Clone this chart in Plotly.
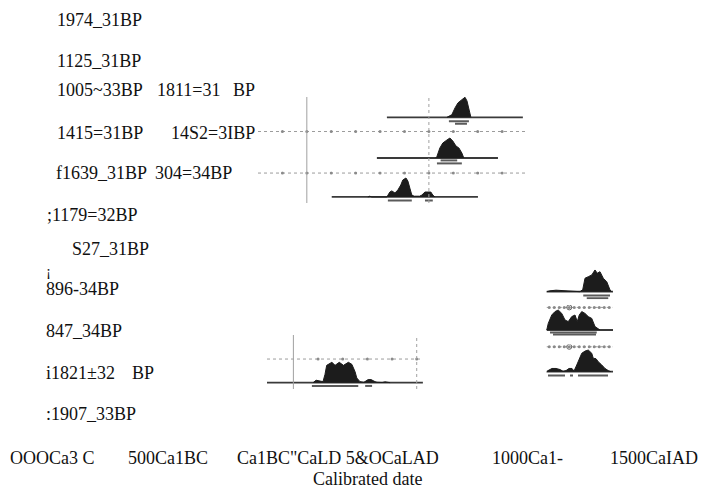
import plotly.graph_objects as go

W, H = 702, 489

# ---------------- data ----------------
bp_labels = ["1974_31BP", "1125_31BP", "1005~33BP", "1811=31", "BP", "1415=31BP", "14S2=3IBP",
             "f1639_31BP", "304=34BP", ";1179=32BP", "S27_31BP", "¡", "896-34BP", "847_34BP",
             "i1821±32", "BP", ":1907_33BP"]
axis_tick_labels = ["OOOCa3 C", "500Ca1BC", "Ca1BC\"CaLD 5&OCaLAD", "1000Ca1-", "1500CaIAD"]
axis_title = "Calibrated date"

# top panel densities (calendar years AD, relative probability)
top1_years = [574, 594, 607, 619, 635, 648, 656, 664, 672]
top1_prob = [0, 0.13, 0.47, 0.72, 0.88, 1.0, 0.82, 0.32, 0]
top1_span = [328, 885]
top1_ranges = [[582, 664], [607, 656]]

top2_years = [528, 533, 545, 557, 574, 586, 598, 611, 623, 635, 643]
top2_prob = [0, 0.08, 0.5, 0.75, 0.9, 1.0, 0.85, 0.6, 0.5, 0.25, 0]
top2_span = [287, 783]
top2_ranges = [[533, 635], [548, 616]]

top3_years = [250, 258, 266, 328, 340, 348, 361, 373, 385, 393, 406, 414, 422, 430, 440,
              451, 462, 471, 484, 496, 508, 516, 525]
top3_prob = [0, 0.04, 0, 0, 0.26, 0.32, 0.21, 0.37, 0.63, 0.89, 1.0, 0.84, 0.47, 0.1, 0.04,
             0.05, 0.04, 0.1, 0.26, 0.26, 0.26, 0.1, 0]
top3_span = [102, 701]
top3_ranges = [[332, 430], [484, 516]]

top_grid_span = [-200, 906]
top_tick_years = [-100, 0, 100, 200, 300, 400, 500, 600, 700, 800]
top_ref_years = [0, 500]

# middle panel (1821±32 BP)
mid_years = [80, 92, 108, 120, 128, 135, 156, 169, 186, 203, 223, 237, 250, 257, 270, 286,
             303, 315, 331, 339, 360, 372, 392]
mid_prob = [0, 0.12, 0.08, 0.05, 0.4, 0.85, 1.0, 0.85, 1.0, 0.85, 1.0, 0.9, 0.54, 0.23, 0.05,
            0.02, 0.15, 0.15, 0.05, 0.02, 0.01, 0.04, 0]
mid_span = [-107, 525]
mid_ranges = [[75, 263], [291, 319]]
mid_tick_years = [100, 200, 300, 400, 500]
mid_ref_years = [0, 500]

# right panel
r1_years = [1010, 1023, 1047, 1075, 1103, 1143, 1154, 1163, 1176, 1190, 1203, 1212, 1223,
            1236, 1250, 1263, 1270]
r1_prob = [0, 0.04, 0.07, 0.05, 0.02, 0, 0.1, 0.62, 0.69, 0.77, 1.0, 0.85, 0.92, 0.62, 0.46,
           0.08, 0]
r1_ranges = [[1156, 1263], [1170, 1256]]

r2_years = [1010, 1016, 1030, 1043, 1056, 1070, 1083, 1096, 1110, 1123, 1132, 1140, 1150,
            1163, 1176, 1190, 1203, 1216, 1223]
r2_prob = [0, 0.33, 0.75, 0.92, 1.0, 0.83, 0.5, 0.42, 0.67, 0.75, 0.42, 0.75, 0.92, 0.83,
           0.67, 0.58, 0.17, 0.08, 0]
r2_ranges = [[1023, 1210], [1035, 1207]]

r3_years = [1010, 1015, 1031, 1047, 1063, 1075, 1087, 1099, 1111, 1119, 1130, 1140, 1150,
            1163, 1176, 1190, 1196, 1207, 1216, 1230, 1243, 1256, 1267]
r3_prob = [0, 0.05, 0.15, 0.15, 0.1, 0.02, 0.05, 0.15, 0.15, 0.03, 0.31, 0.62, 0.85, 0.95,
           1.0, 0.85, 0.62, 0.6, 0.46, 0.31, 0.15, 0.05, 0]
r3_ranges = [[1015, 1083], [1103, 1115], [1135, 1255]]

right_span = [1010, 1275]
right_tick_years = [1020, 1040, 1060, 1080, 1100, 1120, 1140, 1160, 1180, 1200, 1220, 1240, 1260]
right_circle_years = [1100]

# ---------------- layout helpers ----------------
def fx(p):
    return p / W


def fy(p):
    return 1 - p / H


FILL = "#1c1c1c"
BASE = "#3a3a3a"
BAR = "#5a5a5a"
GRID = "#9c9c9c"
TICK = "#8a8a8a"

fig = go.Figure()


def density(xa, ya, years, prob, span, ranges, bar_levels):
    fig.add_trace(go.Scatter(x=span, y=[0, 0], mode="lines", xaxis=xa, yaxis=ya,
                             line=dict(color=BASE, width=1.8), hoverinfo="skip"))
    fig.add_trace(go.Scatter(x=years, y=prob, mode="lines", fill="tozeroy", xaxis=xa, yaxis=ya,
                             fillcolor=FILL, line=dict(color=FILL, width=1), hoverinfo="skip"))
    for r, lvl in zip(ranges, bar_levels):
        fig.add_trace(go.Scatter(x=r, y=[lvl, lvl], mode="lines", xaxis=xa, yaxis=ya,
                                 line=dict(color=BAR, width=2), hoverinfo="skip"))


def dotted(xa, ya, span, level, ticks, circles=()):
    fig.add_trace(go.Scatter(x=span, y=[level, level], mode="lines", xaxis=xa, yaxis=ya,
                             line=dict(color=GRID, width=1, dash="dot"), hoverinfo="skip"))
    fig.add_trace(go.Scatter(x=ticks, y=[level] * len(ticks), mode="markers", xaxis=xa, yaxis=ya,
                             marker=dict(symbol="circle", size=3, color=TICK),
                             hoverinfo="skip"))
    if circles:
        fig.add_trace(go.Scatter(x=list(circles), y=[level] * len(circles), mode="markers",
                                 xaxis=xa, yaxis=ya,
                                 marker=dict(symbol="circle-open", size=5, color="#666",
                                             line=dict(color="#666", width=1)),
                                 hoverinfo="skip"))


# top panel
density("x", "y", top1_years, top1_prob, top1_span, top1_ranges, [-0.2, -0.32])
density("x", "y2", top2_years, top2_prob, top2_span, top2_ranges, [-0.27, -0.12])
density("x", "y3", top3_years, top3_prob, top3_span, top3_ranges, [-0.18, -0.18])
dotted("x", "y2", top_grid_span, 1.325, top_tick_years)
dotted("x", "y3", top_grid_span, 1.26, top_tick_years)

# middle panel
density("x2", "y4", mid_years, mid_prob, mid_span, mid_ranges, [-0.16, -0.16])
dotted("x2", "y4", mid_span, 1.16, mid_tick_years)

# right panel
density("x3", "y5", r1_years, r1_prob, right_span, r1_ranges, [-0.18, -0.3])
density("x3", "y6", r2_years, r2_prob, right_span, r2_ranges, [-0.12, -0.22])
density("x3", "y7", r3_years, r3_prob, right_span, r3_ranges, [-0.18, -0.18, -0.18])
dotted("x3", "y6", right_span, 1.13, right_tick_years, right_circle_years)
dotted("x3", "y7", right_span, 1.15, right_tick_years, right_circle_years)

hidden = dict(visible=False, fixedrange=True)
fig.update_layout(
    width=W, height=H, margin=dict(l=0, r=0, t=0, b=0),
    paper_bgcolor="white", plot_bgcolor="rgba(0,0,0,0)", showlegend=False,
    hovermode=False,
    xaxis=dict(domain=[fx(258), fx(528)], range=[-200, 906], anchor="y3", **hidden),
    yaxis=dict(domain=[fy(126.3), fy(95.3)], range=[-0.45, 1.1], anchor="x", **hidden),
    yaxis2=dict(domain=[fy(167), fy(130)], range=[-0.45, 1.4], anchor="x", **hidden),
    yaxis3=dict(domain=[fy(205.5), fy(171.35)], range=[-0.45, 1.35], anchor="x", **hidden),
    xaxis2=dict(domain=[fx(267), fx(423)], range=[-107, 525.5], anchor="y4", **hidden),
    yaxis4=dict(domain=[fy(390), fy(335)], range=[-0.36, 2.34], anchor="x2", **hidden),
    xaxis3=dict(domain=[fx(546), fx(614)], range=[1007, 1279], anchor="y7", **hidden),
    yaxis5=dict(domain=[fy(299.3), fy(267.8)], range=[-0.35, 1.1], anchor="x3", **hidden),
    yaxis6=dict(domain=[fy(336), fy(305)], range=[-0.3, 1.25], anchor="x3", **hidden),
    yaxis7=dict(domain=[fy(379.3), fy(344.6)], range=[-0.35, 1.25], anchor="x3", **hidden),
)

# reference (vertical) lines
shapes = []
for xr, yr0, yr1, years in [("x", 97, 203, top_ref_years), ("x2", 335, 389, mid_ref_years)]:
    for i, yv in enumerate(years):
        shapes.append(dict(type="line", xref=xr, yref="paper", x0=yv, x1=yv,
                           y0=fy(yr1), y1=fy(yr0),
                           line=dict(color="#a0a0a0", width=1, dash="solid" if i == 0 else "dot")))
fig.update_layout(shapes=shapes)

# text
TEXT_DX = -2
FONT = dict(family="Liberation Serif, Times New Roman, serif", size=18, color="#111")
label_pos = [(57, 20), (57, 61), (57, 90), (157, 90), (233, 90), (57, 133), (171, 133),
             (56, 173), (155, 173), (47, 215), (72, 249), (46, 271), (46, 289), (46, 331),
             (46, 373), (132, 373), (46, 414)]
annotations = []
for txt, (x, y) in zip(bp_labels, label_pos):
    f = dict(FONT)
    if txt == "¡":
        f["size"] = 15
    annotations.append(dict(text=txt, x=fx(x + TEXT_DX), y=fy(y), xref="paper", yref="paper",
                            xanchor="left", yanchor="middle", showarrow=False, font=f))
tick_pos = [(10, 458), (128, 458), (237, 458), (492, 458), (610, 458)]
for txt, (x, y) in zip(axis_tick_labels, tick_pos):
    annotations.append(dict(text=txt, x=fx(x + TEXT_DX), y=fy(y), xref="paper", yref="paper",
                            xanchor="left", yanchor="middle", showarrow=False, font=FONT))
annotations.append(dict(text=axis_title, x=fx(313 + TEXT_DX), y=fy(479), xref="paper",
                        yref="paper", xanchor="left", yanchor="middle", showarrow=False,
                        font=FONT))
fig.update_layout(annotations=annotations)

fig.write_html("out.html",
               config={"displayModeBar": False, "staticPlot": True},
               post_script="document.body.style.margin='0';"
                           "document.body.style.overflow='hidden';")
